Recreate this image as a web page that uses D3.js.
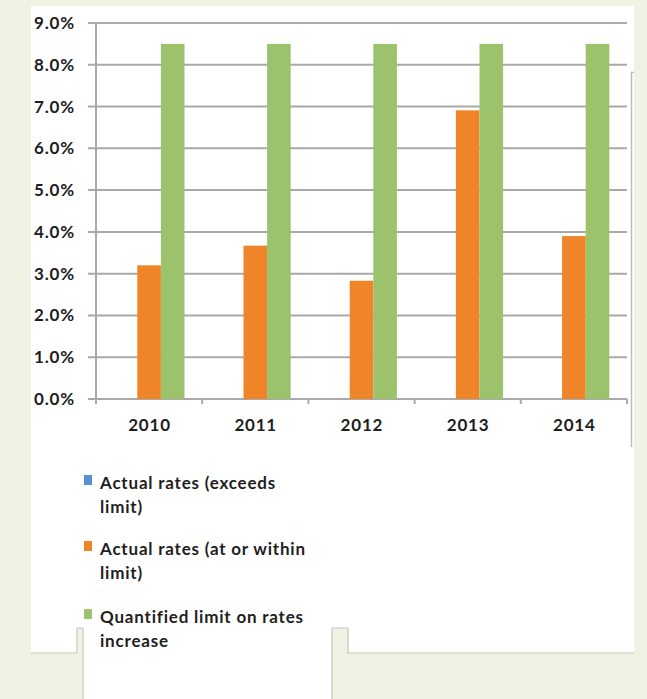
<!DOCTYPE html>
<html><head><meta charset="utf-8">
<script src="https://cdn.jsdelivr.net/npm/d3@7"></script>
<style>html,body{margin:0;padding:0;background:#f0f2e3;}svg{display:block;}</style>
</head><body><svg id="c" width="647" height="699"></svg>
<script>
const years = ["2010","2011","2012","2013","2014"];
const exceeds = [0,0,0,0,0];
const withinLimit = [3.2,3.67,2.83,6.91,3.9];
const quantLimit = [8.5,8.5,8.5,8.5,8.5];
const yTicks = [0,1,2,3,4,5,6,7,8,9];
const seriesNames = ["Actual rates (exceeds limit)","Actual rates (at or within limit)","Quantified limit on rates increase"];
const legendLines = [["Actual rates (exceeds","limit)"],["Actual rates (at or within","limit)"],["Quantified limit on rates","increase"]];
const colors = ["#5a8fcf","#ef8429","#9dc26c"];

const svg = d3.select("#c");
const font = "Lato, 'Open Sans', sans-serif";
const fs = 17, ls = 0.8;

// white panel with tab shape
svg.append("path")
  .attr("d","M31,6H634V653H348V628H332V699H83V628H77V653H31Z")
  .attr("fill","#ffffff");
svg.append("path")
  .attr("d","M31,653H77V628H83V699M332,699V628H348V653H634")
  .attr("fill","none").attr("stroke","#c6c8b6").attr("stroke-width",1.2);
svg.append("path")
  .attr("d","M634,72.5H631.5V447")
  .attr("fill","none").attr("stroke","#bdbdbd").attr("stroke-width",1.5);

const x = d3.scaleBand().domain(years).range([96,627]).paddingInner(0).paddingOuter(0);
const y = d3.scaleLinear().domain([0,9]).range([399,23]);
const bw = x.bandwidth()/4.5;
const xs = d3.scaleBand().domain([0,1,2]).range([x.bandwidth()/2-1.5*bw, x.bandwidth()/2+1.5*bw]);

// gridlines
svg.append("g").selectAll("line").data(yTicks).join("line")
  .attr("x1",88).attr("x2",627)
  .attr("y1",d=>y(d)).attr("y2",d=>y(d))
  .attr("stroke","#a9a9a9").attr("stroke-width",2);

// y axis line
svg.append("line").attr("x1",96).attr("x2",96).attr("y1",y(9)).attr("y2",y(0)+4)
  .attr("stroke","#a9a9a9").attr("stroke-width",2);

// x tick marks
const bounds = years.map(d=>x(d)).concat([x(years[years.length-1])+x.bandwidth()]);
svg.append("g").selectAll("line").data(bounds).join("line")
  .attr("x1",d=>d).attr("x2",d=>d).attr("y1",y(0)).attr("y2",y(0)+5)
  .attr("stroke","#a9a9a9").attr("stroke-width",2);

// bars
const series = [exceeds, withinLimit, quantLimit];
series.forEach((vals,si)=>{
  svg.append("g").selectAll("rect").data(vals).join("rect")
    .attr("x",(d,i)=>x(years[i])+xs(si))
    .attr("width",xs.bandwidth())
    .attr("y",d=>y(d))
    .attr("height",d=>y(0)-y(d))
    .attr("fill",colors[si]);
});

// y labels
svg.append("g").selectAll("text").data(yTicks).join("text")
  .attr("x",75).attr("y",d=>y(d)).attr("dy","0.35em")
  .attr("text-anchor","end")
  .attr("font-family",font).attr("font-weight","bold").attr("font-size",fs)
  .attr("letter-spacing",ls)
  .attr("fill","#1e1e1e")
  .text(d=>d3.format(".1f")(d)+"%");

// x labels
svg.append("g").selectAll("text").data(years).join("text")
  .attr("x",d=>x(d)+x.bandwidth()/2+ls/2).attr("y",425).attr("dy","0.35em")
  .attr("text-anchor","middle")
  .attr("font-family",font).attr("font-weight","bold").attr("font-size",fs)
  .attr("letter-spacing",ls)
  .attr("fill","#1e1e1e")
  .text(d=>d);

// legend
const legY = [483,549,617];
const leg = svg.append("g");
legendLines.forEach((lines,i)=>{
  leg.append("rect").attr("x",84).attr("y",legY[i]-8).attr("width",8).attr("height",10).attr("fill",colors[i]);
  lines.forEach((t,j)=>{
    leg.append("text").attr("x",100).attr("y",legY[i]+j*24).attr("dy","0.35em")
      .attr("font-family",font).attr("font-weight","bold").attr("font-size",fs)
      .attr("letter-spacing",ls)
      .attr("fill","#1e1e1e").text(t);
  });
});
</script></body></html>
